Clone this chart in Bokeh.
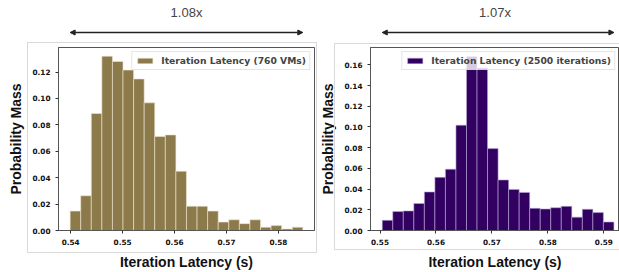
from bokeh.plotting import figure
from bokeh.layouts import row, column
from bokeh.models import (FixedTicker, PrintfTickFormatter, Arrow, NormalHead,
                          InlineStyleSheet)
from bokeh.embed import file_html
from bokeh.resources import INLINE

# ---------------- data ----------------
vm_label = "Iteration Latency (760 VMs)"
vm_ratio = "1.08x"
vm_bin_start = 0.5399
vm_bin_width = 0.002036
vm_mass = [0.0147, 0.0263, 0.0886, 0.1320, 0.1280, 0.1215, 0.1148, 0.0967,
           0.0712, 0.0724, 0.0449, 0.0184, 0.0184, 0.0147, 0.0064, 0.0081,
           0.0052, 0.0081, 0.0025, 0.0037, 0.0012, 0.0025]
vm_xticks = [0.54, 0.55, 0.56, 0.57, 0.58]
vm_yticks = [0.00, 0.02, 0.04, 0.06, 0.08, 0.10, 0.12]

it_label = "Iteration Latency (2500 iterations)"
it_ratio = "1.07x"
it_bin_start = 0.5504
it_bin_width = 0.001882
it_mass = [0.0098, 0.0183, 0.0189, 0.0261, 0.0372, 0.0513, 0.0592, 0.1017,
           0.1680, 0.1568, 0.0791, 0.0488, 0.0397, 0.0368, 0.0214, 0.0208,
           0.0220, 0.0233, 0.0129, 0.0205, 0.0173, 0.0082]
it_xticks = [0.55, 0.56, 0.57, 0.58, 0.59]
it_yticks = [0.00, 0.02, 0.04, 0.06, 0.08, 0.10, 0.12, 0.14, 0.16]

x_title = "Iteration Latency (s)"
y_title = "Probability Mass"

TOP_H = 38
MAIN_H = 234
B_TOP = 9
B_BOT = 38


def box_css(left, top, width, height, right_border=True):
    rb = "" if right_border else "border-right:none;"
    return InlineStyleSheet(css=(
        ":host{position:relative;}"
        ":host::after{content:'';position:absolute;"
        f"left:{left}px;top:{top}px;width:{width}px;height:{height}px;"
        "border:1px solid #d9d9d9;" + rb +
        "box-sizing:border-box;pointer-events:none;}"))


def panel(start, width, mass, label, ratio, color, edge, xticks, yticks,
          xr, yend, w, bl, br, css):
    lefts = [start + i * width for i in range(len(mass))]
    rights = [l + width for l in lefts]
    p = figure(width=w, height=MAIN_H, x_range=xr, y_range=(0, yend),
               output_backend="svg", toolbar_location=None,
               min_border_left=bl, min_border_right=br,
               min_border_top=B_TOP, min_border_bottom=B_BOT,
               stylesheets=[css])
    p.quad(left=lefts, right=rights, bottom=0, top=mass, fill_color=color,
           line_color=edge, line_width=0.6, legend_label=label)
    p.grid.visible = False
    p.outline_line_color = "#555555"
    p.outline_line_width = 1
    p.background_fill_color = "white"
    p.border_fill_color = "white"

    for ax in (p.xaxis[0], p.yaxis[0]):
        ax.axis_line_color = "#555555"
        ax.major_tick_line_color = "#333333"
        ax.major_tick_out = 3
        ax.major_tick_in = 0
        ax.minor_tick_line_color = None
        ax.major_label_text_font = "DejaVu Sans"
        ax.major_label_text_font_style = "bold"
        ax.major_label_text_font_size = "7.3px"
        ax.major_label_text_color = "#111111"
        ax.axis_label_text_font = "Liberation Sans"
        ax.axis_label_text_font_style = "bold"
        ax.axis_label_text_font_size = "14px"
        ax.axis_label_text_color = "#111111"
        ax.formatter = PrintfTickFormatter(format="%.2f")
    p.xaxis.ticker = FixedTicker(ticks=xticks)
    p.yaxis.ticker = FixedTicker(ticks=yticks)
    p.xaxis.axis_label = x_title
    p.yaxis.axis_label = y_title
    p.xaxis.major_label_standoff = 5
    p.yaxis.major_label_standoff = 5
    p.xaxis.axis_label_standoff = 6
    p.yaxis.axis_label_standoff = 5

    lg = p.legend[0]
    lg.location = "top_right"
    lg.margin = 4
    lg.padding = 3
    lg.spacing = 0
    lg.glyph_width = 19
    lg.glyph_height = 7
    lg.label_height = 11
    lg.label_standoff = 7
    lg.label_text_font = "DejaVu Sans"
    lg.label_text_font_style = "bold"
    lg.label_text_font_size = "9.2px"
    lg.border_line_color = "#cccccc"
    lg.background_fill_alpha = 0.8

    t = figure(width=w, height=TOP_H, x_range=p.x_range, y_range=(0, 1),
               output_backend="svg", toolbar_location=None,
               min_border_left=bl, min_border_right=br,
               min_border_top=20, min_border_bottom=0, title=ratio)
    t.axis.visible = False
    t.grid.visible = False
    t.outline_line_color = None
    t.border_fill_color = "white"
    t.title.align = "center"
    t.title.text_font = "Liberation Sans"
    t.title.text_font_style = "normal"
    t.title.text_font_size = "13px"
    t.title.standoff = 2
    head = dict(size=5, fill_color="#222222", line_color="#222222")
    t.add_layout(Arrow(x_start=lefts[0], x_end=rights[-1], y_start=0.333, y_end=0.333,
                       line_width=1.6, line_color="#222222",
                       start=NormalHead(**head), end=NormalHead(**head)))
    return column(t, p, spacing=0)


c1 = panel(vm_bin_start, vm_bin_width, vm_mass, vm_label, vm_ratio,
           "#8C7A4B", "#eee6d2", vm_xticks, vm_yticks,
           (0.53766, 0.58694), 0.1386, 317, 58, 3,
           box_css(27, 4, 290, 211))
c2 = panel(it_bin_start, it_bin_width, it_mass, it_label, it_ratio,
           "#310061", "#b9a9d6", it_xticks, it_yticks,
           (0.5483, 0.5928), 0.1767, 302, 53, 0,
           box_css(17, 5, 285, 207, right_border=False))

layout = row(c1, c2, spacing=0)
open("out.html", "w").write(file_html(layout, INLINE))
